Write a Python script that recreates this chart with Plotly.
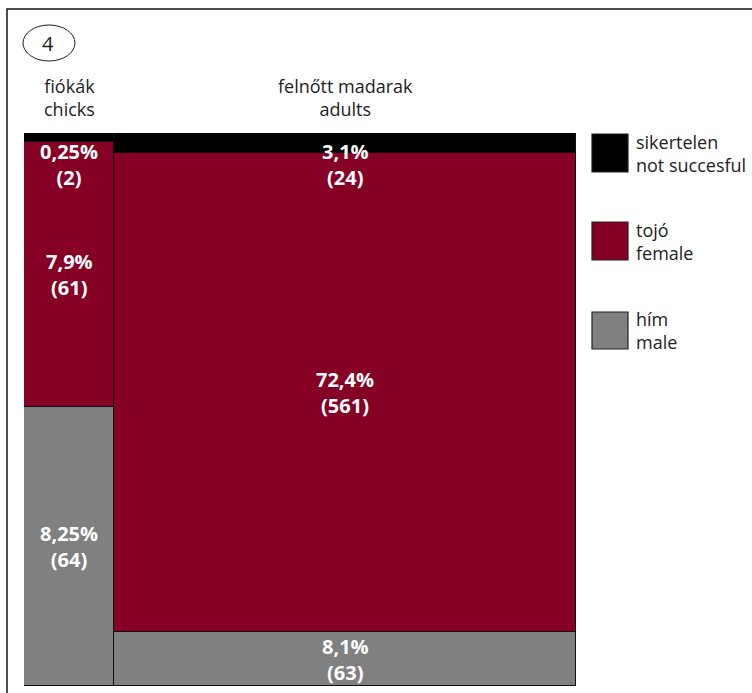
import plotly.graph_objects as go
import numpy as np

# ---- data ----
groups = ["chicks", "adults"]
group_labels = ["fiókák<br>chicks", "felnőtt madarak<br>adults"]
male = [64, 63]          # hím / male
female = [61, 561]       # tojó / female
failed = [2, 24]         # sikertelen / not succesful
pct_male = ["8,25%", "8,1%"]
pct_female = ["7,9%", "72,4%"]
pct_failed = ["0,25%", "3,1%"]
legend_labels = ["sikertelen<br>not succesful", "tojó<br>female", "hím<br>male"]

C_FAIL = "#000000"
C_FEM = "#850024"
C_MALE = "#808080"

male_a = np.array(male, float)
fem_a = np.array(female, float)
fail_a = np.array(failed, float)
totals = male_a + fem_a + fail_a
widths = totals
lefts = np.concatenate([[0], np.cumsum(widths)[:-1]])
centers = lefts + widths / 2

fm = male_a / totals
ff = fem_a / totals
fx = fail_a / totals

fig = go.Figure()
for vals, col, name in [(fm, C_MALE, "male"), (ff, C_FEM, "female"), (fx, C_FAIL, "failed")]:
    fig.add_trace(go.Bar(
        x=centers, y=vals, width=widths, name=name,
        marker=dict(color=col, line=dict(color="#111111", width=1.2)),
        showlegend=False, hoverinfo="skip"))

lab_font = dict(family="Open Sans", size=20, color="white")
ann = []
for i in range(len(groups)):
    ann.append(dict(x=centers[i], y=fm[i] / 2, xref="x", yref="y", xanchor="center", yanchor="middle",
                    text=f"<b>{pct_male[i]}<br>({male[i]})</b>", showarrow=False, font=lab_font))
    ann.append(dict(x=centers[i], y=fm[i] + ff[i] / 2, xref="x", yref="y", xanchor="center", yanchor="middle",
                    text=f"<b>{pct_female[i]}<br>({female[i]})</b>", showarrow=False, font=lab_font))
    ann.append(dict(x=centers[i], y=(686 - 136) / 553, xref="x", yref="paper", xanchor="center", yanchor="top",
                    text=f"<b>{pct_failed[i]}<br>({failed[i]})</b>", showarrow=False, font=lab_font))
    ann.append(dict(x=centers[i], y=(686 - 97) / 553, xref="x", yref="paper", xanchor="center", yanchor="middle",
                    text=group_labels[i], showarrow=False,
                    font=dict(family="Open Sans", size=18, color="#222222")))

# circled number
ann.append(dict(x=(48 - 24) / 552, y=(686 - 43) / 553, xref="paper", yref="paper", text="4",
                xanchor="center", yanchor="middle", showarrow=False,
                font=dict(family="Open Sans", size=20, color="#222222")))

shapes = [
    dict(type="rect", xref="paper", yref="paper", x0=(7 - 24) / 552, x1=(770 - 24) / 552,
         y0=(686 - 710) / 553, y1=(686 - 9) / 553, line=dict(color="#111111", width=1.5),
         fillcolor="rgba(0,0,0,0)", layer="below"),
    dict(type="circle", xref="paper", yref="paper", x0=(23 - 24) / 552, x1=(75 - 24) / 552,
         y0=(686 - 61) / 553, y1=(686 - 25) / 553, line=dict(color="#222222", width=1)),
]

leg_cols = [C_FAIL, C_FEM, C_MALE]
leg_y = [(134, 172), (222, 260), (312, 349)]
for col, (ya, yb), txt in zip(leg_cols, leg_y, legend_labels):
    shapes.append(dict(type="rect", xref="paper", yref="paper",
                       x0=(592 - 24) / 552, x1=(628 - 24) / 552,
                       y0=(686 - yb) / 553, y1=(686 - ya) / 553,
                       fillcolor=col, line=dict(color="#222222", width=1.2)))
    ann.append(dict(x=(634 - 24) / 552, y=(686 - (ya + yb) / 2) / 553, xref="paper", yref="paper",
                    xanchor="left", yanchor="middle", align="left", text=txt, showarrow=False,
                    font=dict(family="Open Sans", size=18, color="#222222")))

fig.update_layout(
    width=752, height=693,
    margin=dict(l=24, r=176, t=133, b=7),
    barmode="stack", bargap=0,
    paper_bgcolor="white", plot_bgcolor="white",
    xaxis=dict(range=[0, totals.sum()], visible=False, fixedrange=True),
    yaxis=dict(range=[0, 1], visible=False, fixedrange=True),
    annotations=ann, shapes=shapes,
)
fig.write_html("out.html", config={"displayModeBar": False},
               post_script="document.body.style.margin='0';document.body.style.overflow='hidden';")
